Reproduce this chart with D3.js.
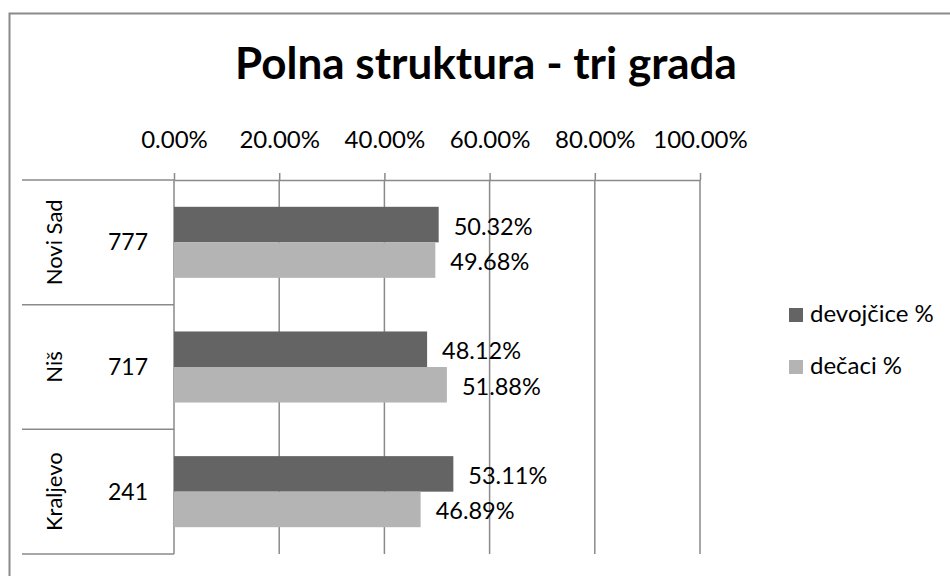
<!DOCTYPE html>
<html>
<head>
<meta charset="utf-8">
<title>Polna struktura - tri grada</title>
<script src="https://cdn.jsdelivr.net/npm/d3@7"></script>
<style>
  body { margin: 0; background: #fff; }
  svg text { font-family: Lato, "Open Sans", sans-serif; fill: #000; }
</style>
</head>
<body>
<div id="chart"></div>
<script>
(function () {
  "use strict";

  // data
  var cities = ["Novi Sad", "Niš", "Kraljevo"];
  var counts = [777, 717, 241];
  var seriesNames = ["devojčice %", "dečaci %"];
  var girls = [50.32, 48.12, 53.11];
  var boys = [49.68, 51.88, 46.89];
  var ticks = [0, 20, 40, 60, 80, 100];

  var colors = ["#646464", "#b4b4b4"];
  var lineColor = "#8a8a8a";

  var width = 950, height = 576;
  var plot = { left: 174, right: 700, top: 180, bottom: 554 };

  var svg = d3.select("#chart")
    .append("svg")
    .attr("width", width)
    .attr("height", height);

  // chart area border (right / bottom run off the picture)
  svg.append("rect")
    .attr("x", 9.5).attr("y", 13.5)
    .attr("width", 1000).attr("height", 1000)
    .attr("fill", "none")
    .attr("stroke", lineColor)
    .attr("stroke-width", 2);

  // title
  svg.append("text")
    .attr("x", 486).attr("y", 79)
    .attr("text-anchor", "middle")
    .style("font-size", "44px")
    .style("font-weight", "bold")
    .text("Polna struktura - tri grada");

  var x = d3.scaleLinear().domain([0, 100]).range([plot.left, plot.right]);

  var y = d3.scaleBand()
    .domain(cities)
    .range([plot.top, plot.bottom])
    .paddingInner(0.43)
    .paddingOuter(0.215);

  var ySub = d3.scaleBand()
    .domain(seriesNames)
    .range([0, y.bandwidth()]);

  // gridlines
  svg.append("g")
    .selectAll("line")
    .data(ticks)
    .enter().append("line")
    .attr("x1", function (d) { return x(d); })
    .attr("x2", function (d) { return x(d); })
    .attr("y1", plot.top)
    .attr("y2", plot.bottom)
    .attr("stroke", lineColor)
    .attr("stroke-width", 1.5);

  // top value axis
  var axis = svg.append("g")
    .attr("transform", "translate(0," + plot.top + ")")
    .call(d3.axisTop(x)
      .tickValues(ticks)
      .tickSizeInner(7)
      .tickSizeOuter(0)
      .tickPadding(25)
      .tickFormat(function (d) { return d.toFixed(2) + "%"; }));
  axis.select(".domain").attr("stroke", lineColor).attr("stroke-width", 1.5);
  axis.selectAll(".tick line").attr("stroke", lineColor).attr("stroke-width", 1.5);
  axis.selectAll(".tick text")
    .attr("fill", "#000")
    .style("font-size", "24px")
    .style("font-family", "Lato, 'Open Sans', sans-serif");

  // category boxes on the left
  var edges = [plot.top].concat(cities.map(function (c) { return y(c) - y.step() * y.paddingOuter() + y.step(); }));
  svg.append("g")
    .selectAll("line")
    .data(edges)
    .enter().append("line")
    .attr("x1", 22).attr("x2", plot.left)
    .attr("y1", function (d) { return d; })
    .attr("y2", function (d) { return d; })
    .attr("stroke", lineColor)
    .attr("stroke-width", 1.5);

  var cat = svg.append("g")
    .selectAll("g")
    .data(cities)
    .enter().append("g")
    .attr("transform", function (d) { return "translate(0," + (y(d) + y.bandwidth() / 2) + ")"; });

  cat.append("text")
    .attr("transform", "translate(62,0) rotate(-90)")
    .attr("text-anchor", "middle")
    .style("font-size", "22px")
    .text(function (d) { return d; });

  cat.append("text")
    .attr("x", 128).attr("y", 8)
    .attr("text-anchor", "middle")
    .style("font-size", "23px")
    .text(function (d, i) { return counts[i]; });

  // bars
  var rows = [];
  cities.forEach(function (c, i) {
    rows.push({ city: c, series: seriesNames[0], value: girls[i], color: colors[0] });
    rows.push({ city: c, series: seriesNames[1], value: boys[i], color: colors[1] });
  });

  svg.append("g")
    .selectAll("rect")
    .data(rows)
    .enter().append("rect")
    .attr("x", x(0))
    .attr("y", function (d) { return y(d.city) + ySub(d.series); })
    .attr("width", function (d) { return x(d.value) - x(0); })
    .attr("height", ySub.bandwidth())
    .attr("fill", function (d) { return d.color; });

  // value labels
  svg.append("g")
    .selectAll("text")
    .data(rows)
    .enter().append("text")
    .attr("x", function (d) { return x(d.value) + 15; })
    .attr("y", function (d) { return y(d.city) + ySub(d.series) + ySub.bandwidth() / 2 + 10; })
    .style("font-size", "23.5px")
    .text(function (d) { return d.value.toFixed(2) + "%"; });

  // legend
  var legend = svg.append("g")
    .selectAll("g")
    .data(seriesNames)
    .enter().append("g")
    .attr("transform", function (d, i) { return "translate(789," + (308 + i * 52) + ")"; });

  legend.append("rect")
    .attr("width", 14).attr("height", 14)
    .attr("fill", function (d, i) { return colors[i]; });

  legend.append("text")
    .attr("x", 21).attr("y", 14)
    .style("font-size", "24px")
    .text(function (d) { return d; });

})();
</script>
</body>
</html>
